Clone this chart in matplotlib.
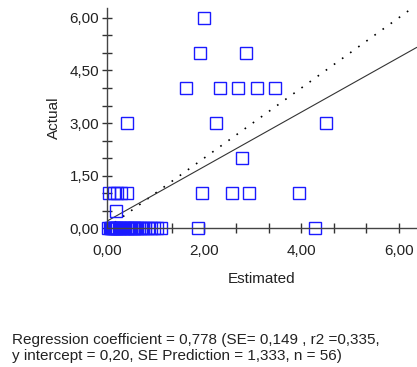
import matplotlib
matplotlib.use('Agg')
import matplotlib.pyplot as plt
import numpy as np
from matplotlib.ticker import MultipleLocator, FuncFormatter

plt.rcParams['font.family'] = ['Liberation Sans', 'DejaVu Sans']

# estimated / actual values
est_0 = [0.03, 0.06, 0.08, 0.10, 0.12, 0.14, 0.17, 0.19, 0.22, 0.25, 0.28,
         0.30, 0.33, 0.36, 0.38, 0.41, 0.44, 0.47, 0.50, 0.53, 0.56, 0.59,
         0.62, 0.66, 0.70, 0.74, 0.78, 0.84, 0.90, 0.97, 1.04, 1.11, 1.88, 4.28]
est_05 = [0.18]
est_1 = [0.05, 0.15, 0.22, 0.30, 0.41, 1.96, 2.58, 2.93, 3.95]
est_2 = [2.78]
est_3 = [0.42, 2.24, 4.50]
est_4 = [1.63, 2.33, 2.70, 3.08, 3.46]
est_5 = [1.92, 2.87]
est_6 = [2.00]

estimated = est_0 + est_05 + est_1 + est_2 + est_3 + est_4 + est_5 + est_6
actual = ([0.0] * len(est_0) + [0.5] * len(est_05) + [1.0] * len(est_1) +
          [2.0] * len(est_2) + [3.0] * len(est_3) + [4.0] * len(est_4) +
          [5.0] * len(est_5) + [6.0] * len(est_6))

slope = 0.778
intercept = 0.20
x_max = 6.37
y_max = 6.28

fig = plt.figure(figsize=(4.17, 3.67), dpi=100)
ax = fig.add_axes([0.256, 0.378, 0.743, 0.600])

# identity line (dotted) and regression line
xx = np.array([0, x_max])
ax.plot(xx, xx, color='black', lw=1.2, linestyle=(0, (1, 5)))
ax.plot(xx, intercept + slope * xx, color='#333333', lw=0.8)

ax.plot(estimated, actual, linestyle='none', marker='s', markersize=8.8,
        markerfacecolor='none', markeredgecolor='#1a1aff', markeredgewidth=1.0,
        clip_on=False)

ax.set_xlim(0, x_max)
ax.set_ylim(0, y_max)

for s in ['top', 'right']:
    ax.spines[s].set_visible(False)
for s in ['left', 'bottom']:
    ax.spines[s].set_color('#444444')
    ax.spines[s].set_linewidth(1.0)

fmt = FuncFormatter(lambda v, p: f'{v:.2f}'.replace('.', ','))
ax.xaxis.set_major_locator(MultipleLocator(2))
ax.xaxis.set_minor_locator(MultipleLocator(2 / 3))
ax.yaxis.set_major_locator(MultipleLocator(1.5))
ax.yaxis.set_minor_locator(MultipleLocator(0.5))
ax.xaxis.set_major_formatter(fmt)
ax.yaxis.set_major_formatter(fmt)
ax.tick_params(which='both', direction='inout', length=7, width=1.0,
               color='#333333', labelsize=11, labelcolor='#222222')
ax.tick_params(axis='x', pad=8)
ax.tick_params(axis='y', pad=2)

ax.set_xlabel('Estimated', fontsize=11, color='#222222', labelpad=10)
ax.set_ylabel('Actual', fontsize=11, color='#222222', labelpad=6)

fig.text(0.029, 0.012, 'Regression coefficient = 0,778 (SE= 0,149 , r2 =0,335,\n'
         'y intercept = 0,20, SE Prediction = 1,333, n = 56)',
         fontsize=11, color='#222222', linespacing=1.15, va='bottom')

fig.savefig('out.png', dpi=100)
